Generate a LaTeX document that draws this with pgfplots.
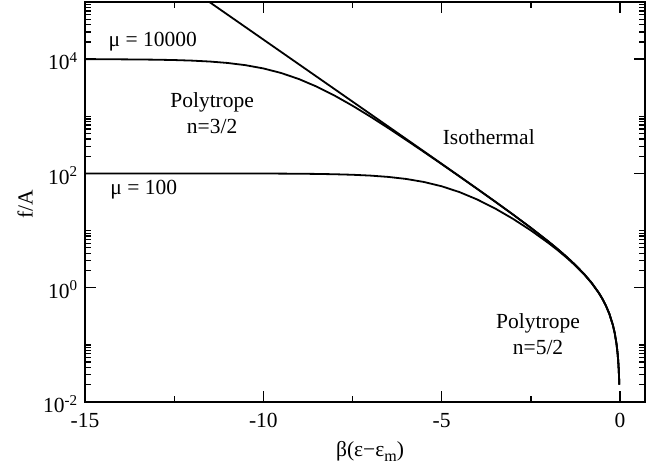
\documentclass[border=0pt]{standalone}
\usepackage{fontspec}
\setmainfont{Liberation Serif}
\usepackage{pgfplots}
\pgfplotsset{compat=1.18}
\usepackage{pgfplotstable}

% f/A against beta(eps - eps_m): isothermal and two lowered models
\pgfplotstableread{
x      iso        mu4      mu2
-15    3269016    9969.5   100.00
-14.5  1982758    9949.8   99.99
-14    1202603    9917.5   99.99
-13.5  729415     9864.8   99.99
-13    442412     9778.9   99.98
-12.5  268336     9640.7   99.96
-12    162754     9421.1   99.94
-11.5  98715      9080.2   99.90
-11    59873      8568.8   99.83
-10.5  36314      7840.9   99.73
-10    22025      6877.4   99.55
-9.5   13359      5719.0   99.26
-9     8102       4475.7   98.78
-8.5   4914       3294.9   98.01
-8     2980       2295.8   96.75
-7.5   1807       1530.5   94.76
-7     1095.6     987.4    91.64
-6.5   664.1      622.7    86.91
-6     402.4      386.8    80.10
-5.5   243.7      237.9    70.90
-5     147.4      145.3    59.58
-4.5   89.02      88.23    47.10
-4     53.60      53.31    34.90
-3.5   32.12      32.02    24.31
-3     19.09      19.05    16.03
-2.5   11.18      11.17    10.06
-2     6.389      6.385    6.005
-1.75  4.755      4.753    4.539
-1.5   3.482      3.481    3.365
-1.25  2.490      2.489    2.430
-1     1.718      1.718    1.689
-0.8   1.2255     1.2254   1.2107
-0.6   0.8221     0.8221   0.8154
-0.5   0.6487     0.6487   0.6445
-0.4   0.4918     0.4918   0.4894
-0.3   0.3499     0.3499   0.3487
-0.2   0.2214     0.2214   0.2209
-0.15  0.1618     0.1618   0.1615
-0.1   0.1052     0.1052   0.1051
-0.07  0.0725     0.0725   0.0724
-0.05  0.0513     0.0513   0.0513
-0.035 0.0356     0.0356   0.0356
-0.02  0.0202     0.0202   0.0202
}\curves

\pgfplotsset{curve/.style={black, no markers, line width=1.8pt, line join=round}}

\begin{document}
\begin{tikzpicture}
\fontsize{21.5}{26}\selectfont
\begin{axis}[
  name=ax,
  scale only axis,
  width=560pt, height=400pt,
  xmin=-15, xmax=0.7,
  ymode=log, ymin=1e-2, ymax=1e5,
  xtick={-15,-10,-5,0},
  xticklabels={-15,-10,-5,0},
  minor xtick={-12.5,-7.5,-2.5},
  ytick={1e-2,1,1e2,1e4},
  yticklabels={10\textsuperscript{-2},10\textsuperscript{0},10\textsuperscript{2},10\textsuperscript{4}},
  minor ytick={0.02,0.03,0.04,0.05,0.06,0.07,0.08,0.09,0.1,
               2,3,4,5,6,7,8,9,10,
               200,300,400,500,600,700,800,900,1000,
               20000,30000,40000,50000,60000,70000,80000,90000,100000},
  tick align=inside,
  major tick length=11pt,
  minor tick length=6pt,
  axis line style={line width=1.7pt},
  every tick/.style={black, line width=1.3pt},
  tick label style={font=\fontsize{21.5}{26}\selectfont},
  yticklabel style={yshift=-2pt},
  xticklabel style={yshift=-4pt},
  xlabel={β(ε−ε\raisebox{-0.55ex}{\fontsize{16}{16}\selectfont m})},
  ylabel={f/A},
  label style={font=\fontsize{21.5}{26}\selectfont},
  xlabel style={at={(axis description cs:0.509,-0.124)}, anchor=center},
  ylabel style={at={(axis description cs:-0.107,0.495)}, anchor=center},
]
\addplot[curve] table[x=x, y=iso] {\curves};
\addplot[curve] table[x=x, y=mu4] {\curves};
\addplot[curve] table[x=x, y=mu2] {\curves};

\node at (rel axis cs:0.121,0.902) {μ = 10000};
\node[align=center] at (rel axis cs:0.227,0.722) {Polytrope\\n=3/2};
\node at (rel axis cs:0.105,0.530) {μ = 100};
\node at (rel axis cs:0.721,0.662) {Isothermal};
\node[align=center] at (rel axis cs:0.809,0.170) {Polytrope\\n=5/2};
\end{axis}
\pgfresetboundingbox
\path[use as bounding box] ([shift={(-85pt,-68pt)}]ax.south west) rectangle ([shift={(9pt,2pt)}]ax.north east);
\end{tikzpicture}
\end{document}
